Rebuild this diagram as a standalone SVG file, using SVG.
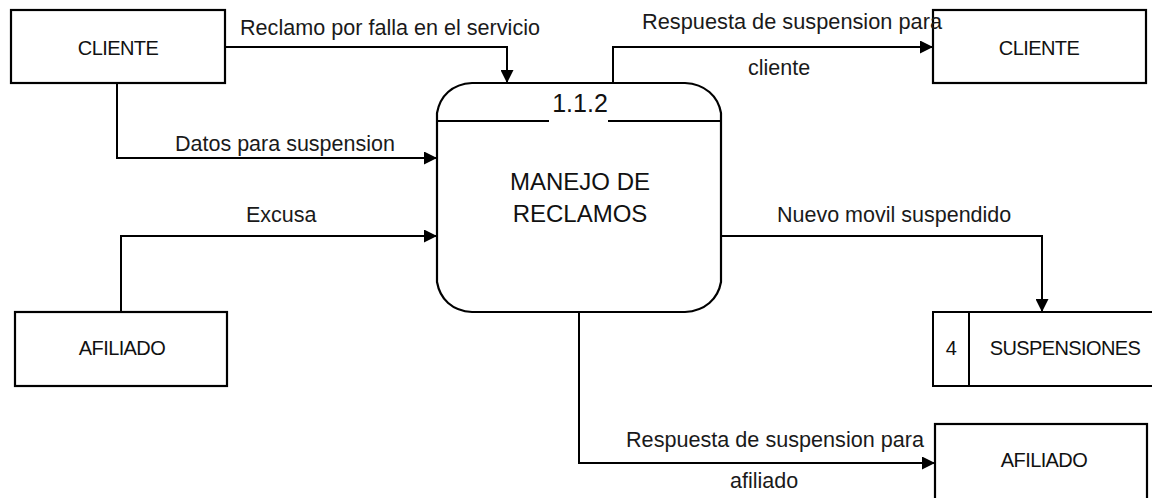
<svg xmlns="http://www.w3.org/2000/svg" width="1152" height="498" viewBox="0 0 1152 498">
<style>
.box{fill:#fff;stroke:#000;stroke-width:2.2}
.ln{fill:none;stroke:#000;stroke-width:2}
.lbl{font-family:"Liberation Sans",Arial,sans-serif;font-size:21.5px;fill:#1a1a1a}
.nt{font-family:"Liberation Sans",Arial,sans-serif;font-size:20px;fill:#111;letter-spacing:-0.6px;text-anchor:middle}
.pt{font-family:"Liberation Sans",Arial,sans-serif;fill:#111;text-anchor:middle}
</style>
<defs>
<marker id="arr" viewBox="0 0 13 13" refX="13" refY="6.5" markerWidth="13" markerHeight="13" markerUnits="userSpaceOnUse" orient="auto">
<path d="M0,0 L13,6.5 L0,13 Z" fill="#000"/>
</marker>
</defs>
<rect width="1152" height="498" fill="#fff"/>
<g id="cliente1">
<rect class="box" x="11" y="10" width="214" height="73"/>
<text class="nt" x="118" y="55">CLIENTE</text>
</g>
<g id="afiliado1">
<rect class="box" x="15" y="312" width="212" height="74"/>
<text class="nt" x="122" y="355">AFILIADO</text>
</g>
<g id="cliente2">
<rect class="box" x="933" y="10" width="213" height="73"/>
<text class="nt" x="1039" y="55">CLIENTE</text>
</g>
<g id="afiliado2">
<rect class="box" x="935" y="424" width="212" height="76"/>
<text class="nt" x="1044" y="467">AFILIADO</text>
</g>
<g id="store4">
<path class="ln" d="M1152,312 H933 V386 H1152 M969,312 V386" stroke-width="2.2"/>
<text class="nt" x="951" y="355">4</text>
<text class="nt" x="1065" y="355">SUSPENSIONES</text>
</g>
<g id="process112">
<path class="box" d="M472,83 L685,83 C705,84 718,96 721,113 L721,282 C718,299 705,311 685,312 L472,312 C452,311 440,299 437,282 L437,113 C440,96 452,84 472,83 Z"/>
<path class="ln" d="M437,121 H549 M608,121 H721" stroke-width="2.2"/>
<text class="pt" x="580" y="112" font-size="25">1.1.2</text>
<text class="pt" x="580" y="190" font-size="24">MANEJO DE</text>
<text class="pt" x="580" y="222" font-size="24">RECLAMOS</text>
</g>
<g id="connectors">
<path class="ln" d="M225,47 H507 V83" marker-end="url(#arr)"/>
<path class="ln" d="M117,83 V158 H437" marker-end="url(#arr)"/>
<path class="ln" d="M121,312 V236 H437" marker-end="url(#arr)"/>
<path class="ln" d="M613,83 V47 H933" marker-end="url(#arr)"/>
<path class="ln" d="M721,236 H1042 V312" marker-end="url(#arr)"/>
<path class="ln" d="M579,312 V463 H935" marker-end="url(#arr)"/>
<text class="lbl" x="240" y="35" textLength="300" lengthAdjust="spacingAndGlyphs">Reclamo por falla en el servicio</text>
<text class="lbl" x="175" y="151">Datos para suspension</text>
<text class="lbl" x="246" y="222">Excusa</text>
<text class="lbl" x="642" y="29" textLength="300" lengthAdjust="spacingAndGlyphs">Respuesta de suspension para</text>
<text class="lbl" x="748" y="75">cliente</text>
<text class="lbl" x="777" y="222">Nuevo movil suspendido</text>
<text class="lbl" x="626" y="447" textLength="298" lengthAdjust="spacingAndGlyphs">Respuesta de suspension para</text>
<text class="lbl" x="730" y="488">afiliado</text>
</g>
</svg>
